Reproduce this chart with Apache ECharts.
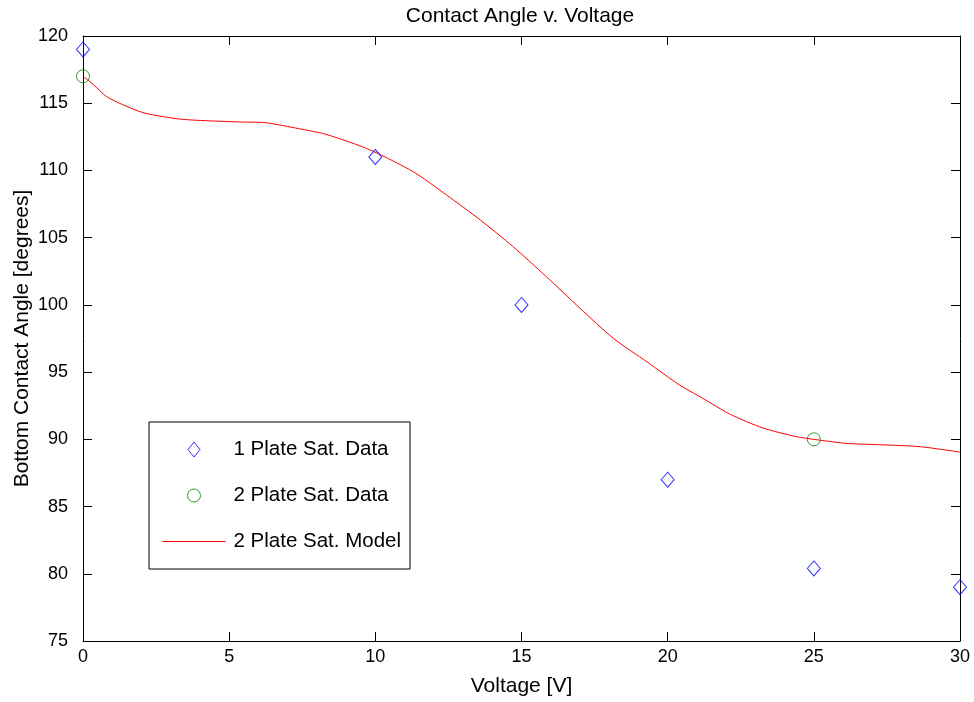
<!DOCTYPE html>
<html>
<head>
<meta charset="utf-8">
<title>Contact Angle v. Voltage</title>
<script src="https://cdn.jsdelivr.net/npm/echarts@6/dist/echarts.min.js"></script>
<style>
  html, body { margin: 0; padding: 0; background: #ffffff; }
  #chart { width: 974px; height: 702px; }
</style>
</head>
<body>
<div id="chart"></div>
<script>
// Measured contact angles, one-plate saturation
const onePlateVoltage = [0, 10, 15, 20, 25, 30];
const onePlateAngle   = [119, 111, 100, 87, 80.4, 79];

// Measured contact angles, two-plate saturation
const twoPlateVoltage = [0, 25];
const twoPlateAngle   = [117, 90];

// Two-plate saturation model curve
const modelVoltage = [0, 0.35, 0.8, 1.35, 2.05, 2.75, 3.4, 4.2, 5.45, 6.25, 7.4, 8.2, 9.0,
  9.9, 11.3, 12.45, 13.6, 14.7, 15.85, 17.0, 18.15, 19.3, 20.4, 21.2, 22.15, 23.25, 24.4,
  25.0, 26.1, 27.25, 28.65, 30.0];
const modelAngle = [117.0, 116.4, 115.5, 114.9, 114.3, 114.0, 113.8, 113.7, 113.6, 113.55,
  113.1, 112.75, 112.2, 111.45, 109.9, 108.15, 106.3, 104.35, 102.1, 99.75, 97.5, 95.75,
  94.05, 93.05, 91.85, 90.85, 90.2, 90.0, 89.7, 89.6, 89.45, 89.05];

const xTicks = { min: 0, max: 30, interval: 5 };
const yTicks = { min: 75, max: 120, interval: 5 };

const seriesNames = ['1 Plate Sat. Data', '2 Plate Sat. Data', '2 Plate Sat. Model'];

const zip = (xs, ys) => xs.map((x, i) => [x, ys[i]]);

const FONT = '"Liberation Sans", Arial, Helvetica, sans-serif';
const axisLine = { show: true, onZero: false, lineStyle: { color: '#000000', width: 1 } };
const tickIn = { show: true, inside: true, length: 9, lineStyle: { color: '#000000', width: 1 } };

// Legend glyphs in a 63x20 box; the leading moves pin the bounding box so
// each mark keeps its own size inside the legend slot.
const LEG_W = 63, LEG_H = 20;
const iconDiamond = 'path://M0,0M63,20M25.5,10L31.5,2.5L37.5,10L31.5,17.5Z';
const iconCircle  = 'path://M0,0M63,20M25,10A6.5,6.5 0 1,1 38,10A6.5,6.5 0 1,1 25,10Z';
const iconLine    = 'path://M0,0M63,20M0,9.5L63,9.5L63,10.5L0,10.5Z';

const chart = echarts.init(document.getElementById('chart'), null, { renderer: 'canvas' });

chart.setOption({
  backgroundColor: '#ffffff',
  animation: false,
  title: {
    text: 'Contact Angle v. Voltage',
    left: 515,
    top: 1,
    textAlign: 'center',
    textStyle: { fontFamily: FONT, fontSize: 21, fontWeight: 'normal', color: '#000000' }
  },
  grid: { left: 83, right: 14, top: 36, bottom: 61, containLabel: false, outerBoundsMode: 'none' },
  legend: {
    orient: 'vertical',
    left: 149,
    top: 422,
    padding: [17, 9, 17, 13],
    itemGap: 25,
    itemWidth: LEG_W,
    itemHeight: LEG_H,
    symbolKeepAspect: true,
    backgroundColor: '#ffffff',
    borderColor: '#000000',
    borderWidth: 1,
    borderRadius: 0,
    selectedMode: false,
    textStyle: { fontFamily: FONT, fontSize: 20.5, color: '#000000', padding: [0, 0, 0, 3] },
    data: [
      { name: seriesNames[0], icon: iconDiamond,
        itemStyle: { color: 'rgba(0,0,0,0)', borderColor: '#0000ff', borderWidth: 1 } },
      { name: seriesNames[1], icon: iconCircle,
        itemStyle: { color: 'rgba(0,0,0,0)', borderColor: '#008000', borderWidth: 1 } },
      { name: seriesNames[2], icon: iconLine,
        itemStyle: { color: '#ff0000', borderWidth: 0 } }
    ]
  },
  xAxis: [
    {
      type: 'value', position: 'bottom', min: xTicks.min, max: xTicks.max, interval: xTicks.interval,
      name: 'Voltage [V]', nameLocation: 'middle', nameGap: 35, nameMoveOverlap: false,
      nameTextStyle: { fontFamily: FONT, fontSize: 21, color: '#000000' },
      axisLine: axisLine, axisTick: tickIn,
      axisLabel: { margin: 7, fontFamily: FONT, fontSize: 18, color: '#000000' },
      splitLine: { show: false }
    },
    {
      type: 'value', position: 'top', min: xTicks.min, max: xTicks.max, interval: xTicks.interval,
      axisLine: axisLine, axisTick: tickIn, axisLabel: { show: false }, splitLine: { show: false }
    }
  ],
  yAxis: [
    {
      type: 'value', position: 'left', min: yTicks.min, max: yTicks.max, interval: yTicks.interval,
      name: 'Bottom Contact Angle [degrees]', nameLocation: 'middle', nameGap: 50, nameMoveOverlap: false,
      nameTextStyle: { fontFamily: FONT, fontSize: 21, color: '#000000' },
      axisLine: axisLine, axisTick: tickIn,
      axisLabel: { margin: 15, fontFamily: FONT, fontSize: 18, color: '#000000' },
      splitLine: { show: false }
    },
    {
      type: 'value', position: 'right', min: yTicks.min, max: yTicks.max, interval: yTicks.interval,
      axisLine: axisLine, axisTick: tickIn, axisLabel: { show: false }, splitLine: { show: false }
    }
  ],
  series: [
    {
      name: seriesNames[0],
      type: 'scatter',
      symbol: 'diamond',
      symbolSize: [13, 15],
      color: '#0000ff',
      itemStyle: { color: 'rgba(0,0,0,0)', borderColor: '#0000ff', borderWidth: 1 },
      data: zip(onePlateVoltage, onePlateAngle),
      z: 4
    },
    {
      name: seriesNames[1],
      type: 'scatter',
      symbol: 'circle',
      symbolSize: 13,
      color: '#008000',
      itemStyle: { color: 'rgba(0,0,0,0)', borderColor: '#008000', borderWidth: 1 },
      data: zip(twoPlateVoltage, twoPlateAngle),
      z: 4
    },
    {
      name: seriesNames[2],
      type: 'line',
      symbol: 'none',
      showSymbol: false,
      smooth: 0.25,
      color: '#ff0000',
      lineStyle: { color: '#ff0000', width: 1 },
      data: zip(modelVoltage, modelAngle),
      z: 3
    }
  ]
});
</script>
</body>
</html>
